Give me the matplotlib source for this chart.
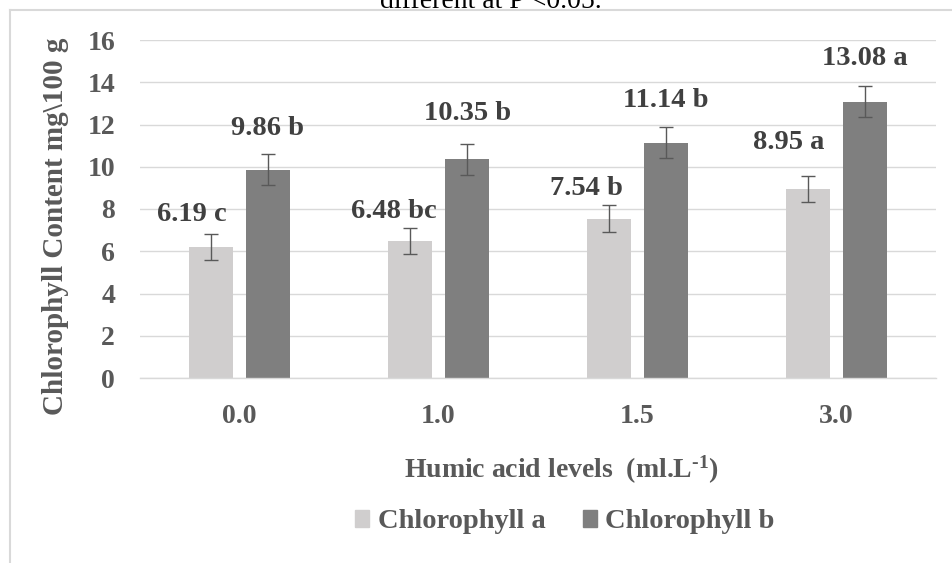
import numpy as np
import matplotlib.pyplot as plt
from matplotlib.lines import Line2D
from matplotlib.patches import Patch

# chlorophyll content (mg/100 g) for each humic acid level
levels = ['0.0', '1.0', '1.5', '3.0']
chl_a = [6.19, 6.48, 7.54, 8.95]
chl_b = [9.86, 10.35, 11.14, 13.08]
err_a = [0.62, 0.60, 0.63, 0.63]
err_b = [0.73, 0.73, 0.73, 0.74]
letters_a = ['c', 'bc', 'b', 'a']
letters_b = ['b', 'b', 'b', 'a']

plt.rcParams['font.family'] = ['Liberation Serif', 'DejaVu Serif']
plt.rcParams['font.weight'] = 'bold'
plt.rcParams['mathtext.fontset'] = 'custom'
plt.rcParams['mathtext.rm'] = 'Liberation Serif:bold'
plt.rcParams['mathtext.bf'] = 'Liberation Serif:bold'
plt.rcParams['mathtext.default'] = 'bf'

light = '#d0cece'
dark = '#7f7f7f'
txt = '#595959'

W, H = 952, 563
fig = plt.figure(figsize=(W / 100, H / 100), dpi=100)
ax = fig.add_axes([140 / W, 1 - 378 / H, 796 / W, 338 / H])

x = np.arange(len(levels))
off, bw = 0.143, 0.221
ekw = dict(ecolor='#595959', elinewidth=1.0, capsize=4.7, capthick=1.0)
ax.bar(x - off, chl_a, bw, yerr=err_a, color=light, error_kw=ekw, zorder=2)
ax.bar(x + off, chl_b, bw, yerr=err_b, color=dark, error_kw=ekw, zorder=2)

# value labels, nudged by hand as in the original sheet
shift_a = [(-19, 13), (-16.5, 10.7), (-23, 10.7), (-19.5, 26.3)]
shift_b = [(0, 19), (1, 24), (0, 20.7), (0, 21)]
for i in range(len(levels)):
    for v, e, l, (dx, dy), xo in ((chl_a[i], err_a[i], letters_a[i], shift_a[i], -off),
                                 (chl_b[i], err_b[i], letters_b[i], shift_b[i], off)):
        ax.annotate(f'{v:.2f} {l}', xy=(x[i] + xo, v + e), xytext=(dx * 0.72, dy * 0.72),
                    textcoords='offset points', ha='center', va='baseline',
                    fontsize=20.5, color='#404040', fontweight='bold')

ax.set_xlim(-0.5, 3.5)
ax.set_ylim(0, 16)
ax.set_yticks(range(0, 17, 2))
ax.set_xticks(x)
ax.set_xticklabels(levels)
ax.tick_params(axis='both', length=0, labelsize=20, labelcolor=txt)
ax.tick_params(axis='y', pad=18)
ax.tick_params(axis='x', pad=19)
ax.yaxis.grid(True, color='#d9d9d9', lw=1.0, zorder=0)
ax.set_axisbelow(True)
for s in ['top', 'right', 'left']:
    ax.spines[s].set_visible(False)
ax.spines['bottom'].set_color('#d9d9d9')
ax.spines['bottom'].set_linewidth(1.0)

fig.text(56 / W, 1 - 226 / H, 'Chlorophyll Content mg\\100 g', rotation=90,
         ha='center', va='center', fontsize=21, color=txt, fontweight='bold')
fig.text(561 / W, 1 - 470 / H, r'Humic acid levels  (ml.L$^{\text{-1}}$)',
         ha='center', va='center', fontsize=20, color=txt, fontweight='bold')

handles = [Patch(color=light), Patch(color=dark)]
fig.legend(handles, ['Chlorophyll a', 'Chlorophyll b'], loc='center',
           bbox_to_anchor=(565 / W, 1 - 522 / H), ncol=2, frameon=False,
           handlelength=0.5, handleheight=0.5, handletextpad=0.3,
           columnspacing=1.3, prop={'size': 20.5, 'weight': 'bold'}, labelcolor=txt)

# frame of the figure box and the caption running into it
fig.add_artist(Line2D([10 / W, 10 / W], [0, 1 - 10 / H], transform=fig.transFigure,
                      color='#d9d9d9', lw=1.5))
fig.add_artist(Line2D([10 / W, 1], [1 - 10 / H, 1 - 10 / H], transform=fig.transFigure,
                      color='#d9d9d9', lw=1.5))
fig.text(491 / W, 1 - 8 / H, 'different at P <0.05.', ha='center', va='baseline',
         fontsize=20, color='black', fontweight='normal')

fig.savefig('out.png', dpi=100)
